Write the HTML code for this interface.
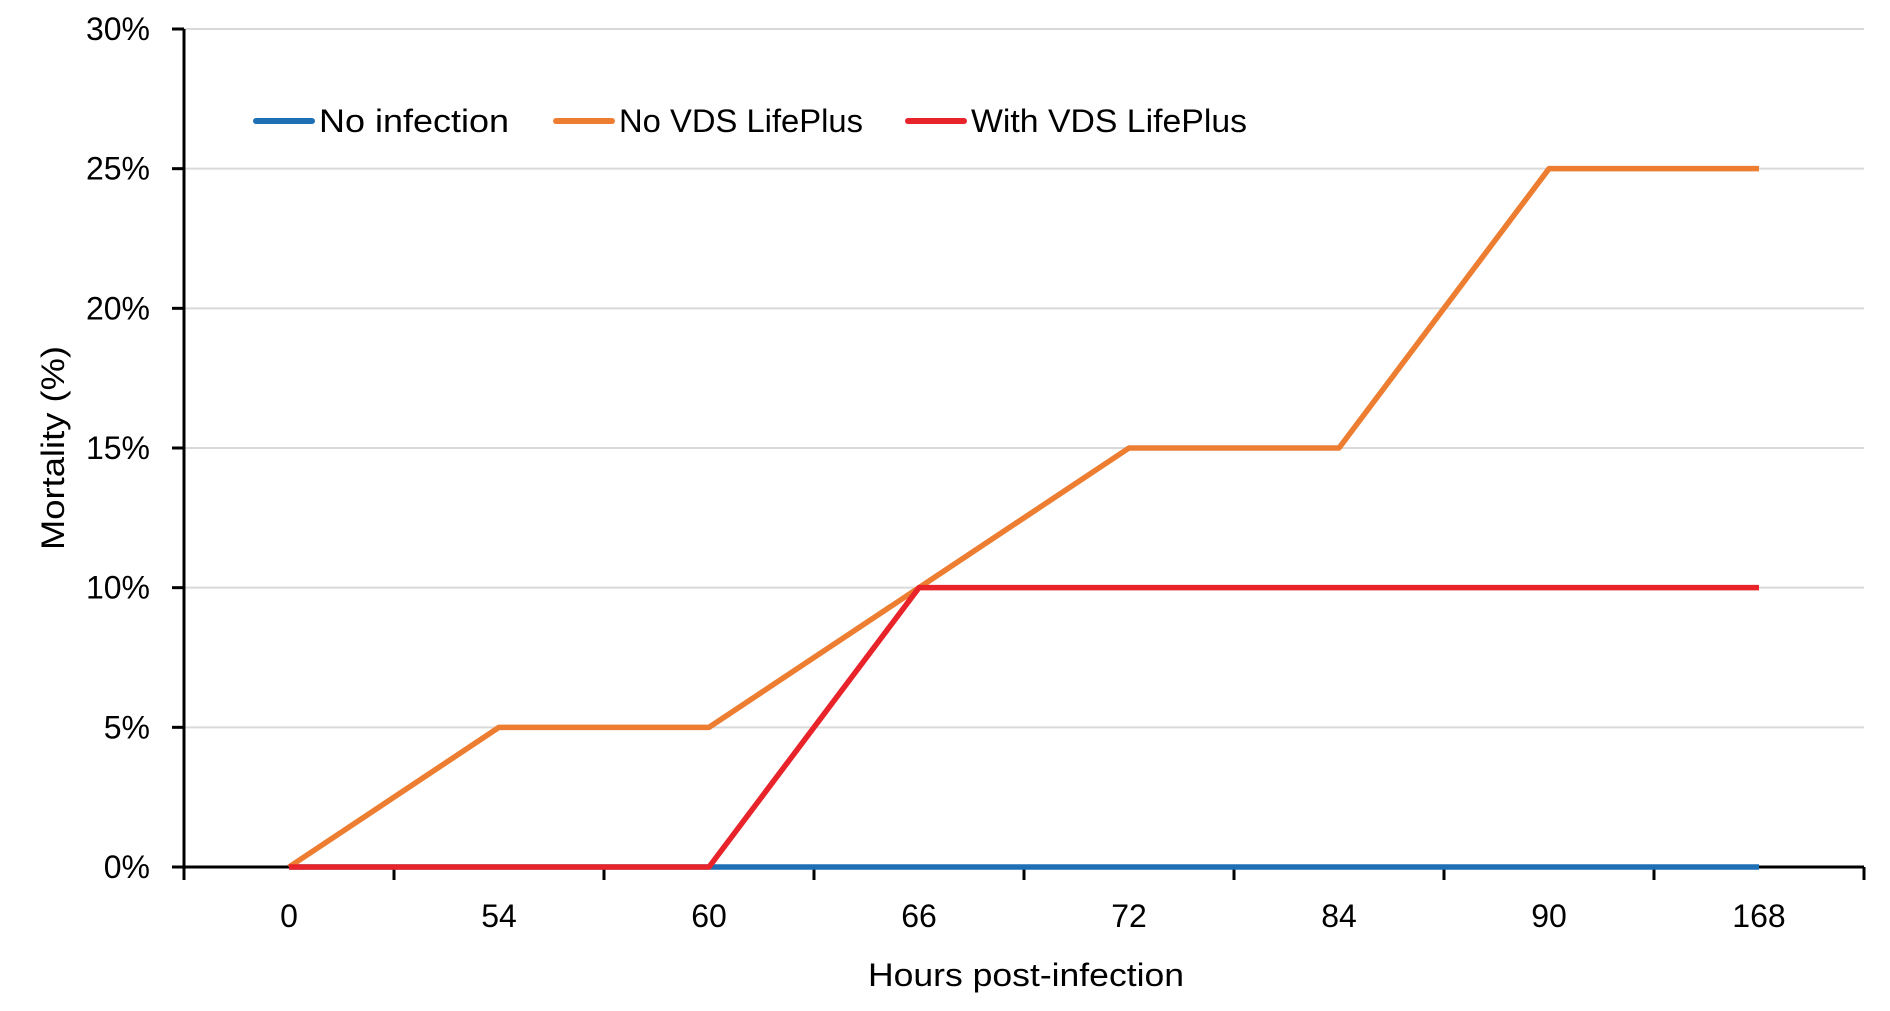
<!DOCTYPE html>
<html><head><meta charset="utf-8"><style>
html,body{margin:0;padding:0;background:#fff;}
svg{display:block;font-family:"Liberation Sans",sans-serif;}
</style></head><body>
<svg id="chart" width="1890" height="1011" viewBox="0 0 1890 1011" xmlns="http://www.w3.org/2000/svg">
<g id="grid"></g>
<g id="yticks"></g>
<g id="xticks"></g>
<line x1="184" y1="29" x2="184" y2="867" stroke="#000" stroke-width="3"/>
<line x1="184" y1="867" x2="1864" y2="867" stroke="#000" stroke-width="3"/>
<g id="series"></g>
<text transform="translate(64,448) rotate(-90)" text-anchor="middle" font-size="32" textLength="204" lengthAdjust="spacingAndGlyphs">Mortality (%)</text>
<text x="1026" y="986" text-anchor="middle" font-size="32" textLength="316" lengthAdjust="spacingAndGlyphs">Hours post-infection</text>
<g>
<g><line x1="256" y1="121" x2="312" y2="121" stroke="#1F6FB5" stroke-width="6" stroke-linecap="round"/><text x="319" y="132" font-size="32" textLength="190" lengthAdjust="spacingAndGlyphs">No infection</text></g>
<g><line x1="556" y1="121" x2="612" y2="121" stroke="#ED7D31" stroke-width="6" stroke-linecap="round"/><text x="619" y="132" font-size="32" textLength="244" lengthAdjust="spacingAndGlyphs">No VDS LifePlus</text></g>
<g><line x1="908" y1="121" x2="964" y2="121" stroke="#E8232A" stroke-width="6" stroke-linecap="round"/><text x="971" y="132" font-size="32" textLength="276" lengthAdjust="spacingAndGlyphs">With VDS LifePlus</text></g>
</g>
</svg>
<script>
const categories = ["0","54","60","66","72","84","90","168"];
const yTickValues = [0,5,10,15,20,25,30];
const noInfection = [0,0,0,0,0,0,0,0];
const noVds = [0,5,5,10,15,15,25,25];
const withVds = [0,0,0,10,10,10,10,10];

const NS="http://www.w3.org/2000/svg";
const L=184,R=1864,T=29,B=867,yMax=30;
const bw=(R-L)/categories.length;
function xPos(i){return L+bw*(i+0.5);}
function yPos(v){return B-(v/yMax)*(B-T);}
function mk(tag,attrs,parent){const e=document.createElementNS(NS,tag);for(const k in attrs)e.setAttribute(k,attrs[k]);parent.appendChild(e);return e;}
const grid=document.getElementById('grid'),yt=document.getElementById('yticks'),xt=document.getElementById('xticks'),ser=document.getElementById('series');
yTickValues.forEach(v=>{
  const y=yPos(v);
  if(v>0){const g=mk('line',{x1:L,x2:R,y1:y,y2:y,stroke:'#d9d9d9','stroke-width':2},grid);
  
  }
  const t=mk('line',{x1:L-12,x2:L,y1:y,y2:y,stroke:'#000','stroke-width':3},yt);
  
  
  const tx=mk('text',{x:L-34,y:y+11,'text-anchor':'end','font-size':32},yt);
  tx.textContent=v+'%';
  
  
});
for(let i=0;i<=categories.length;i++){
  const x=L+bw*i;
  const t=mk('line',{x1:x,x2:x,y1:B,y2:B+13,stroke:'#000','stroke-width':3},xt);
  
  
}
categories.forEach((c,i)=>{
  const tx=mk('text',{x:xPos(i),y:B+60,'text-anchor':'middle','font-size':32},xt);
  tx.textContent=c;
  
  
});
function drawSeries(vals,color,name){
  const pts=vals.map((v,i)=>xPos(i)+','+yPos(v)).join(' ');
  const p=mk('polyline',{points:pts,fill:'none',stroke:color,'stroke-width':5.5,'stroke-linejoin':'round'},ser);
  
  
}
drawSeries(noInfection,'#1F6FB5','line-no-infection');
drawSeries(noVds,'#ED7D31','line-no-vds-lifeplus');
drawSeries(withVds,'#E8232A','line-with-vds-lifeplus');
</script>
</body></html>
